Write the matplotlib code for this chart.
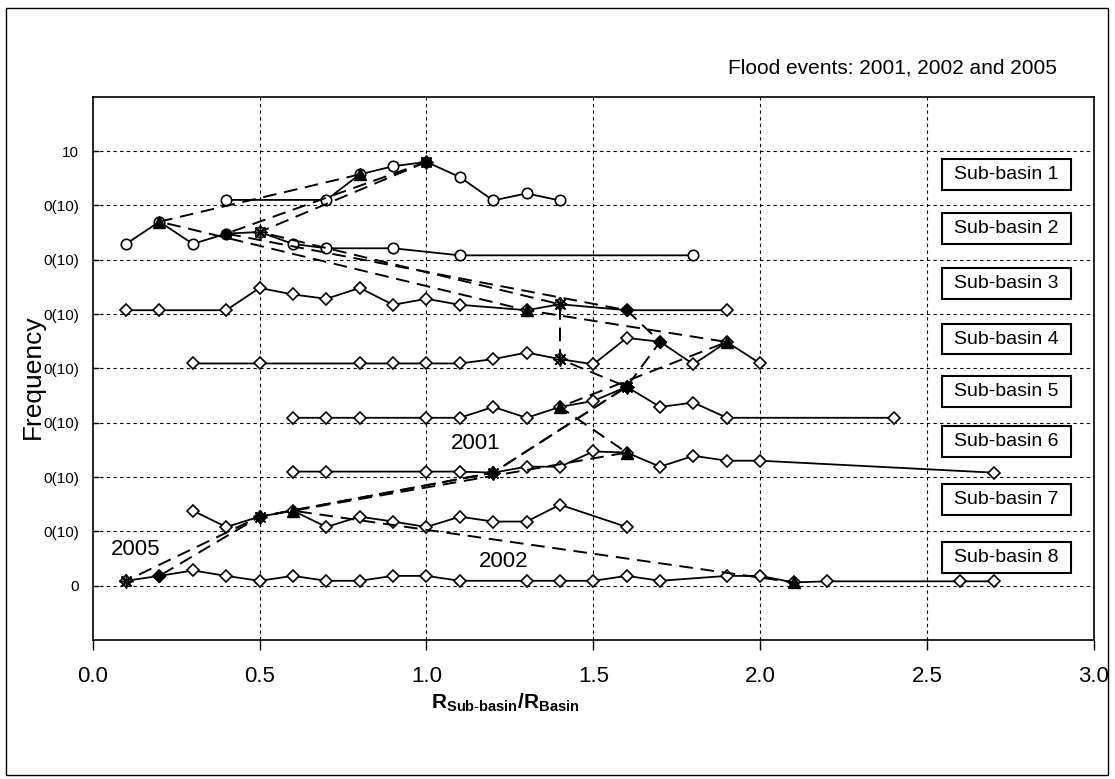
import matplotlib
matplotlib.use("Agg")
import matplotlib.pyplot as plt
from matplotlib.patches import Rectangle
import numpy as np

plt.rcParams['font.family'] = ['Liberation Sans', 'DejaVu Sans']
plt.rcParams['mathtext.fontset'] = 'custom'
plt.rcParams['mathtext.rm'] = 'Liberation Sans'
plt.rcParams['mathtext.bf'] = 'Liberation Sans:bold'

# ---- data: frequency per sub-basin vs R_sub-basin / R_basin ----
sb1_x = [0.4, 0.7, 0.8, 0.9, 1.0, 1.1, 1.2, 1.3, 1.4]
sb1_y = [1.0, 1.0, 5.7, 7.2, 8.0, 5.2, 0.9, 2.2, 0.9]
sb2_x = [0.1, 0.2, 0.3, 0.4, 0.5, 0.6, 0.7, 0.9, 1.1, 1.8]
sb2_y = [2.9, 7.0, 2.9, 4.8, 5.1, 2.9, 2.1, 2.1, 0.8, 0.8]
sb3_x = [0.1, 0.2, 0.4, 0.5, 0.6, 0.7, 0.8, 0.9, 1.0, 1.1, 1.3, 1.4, 1.6, 1.9]
sb3_y = [0.7, 0.7, 0.7, 4.8, 3.6, 2.8, 4.8, 1.7, 2.8, 1.7, 0.7, 1.8, 0.7, 0.7]
sb4_x = [0.3, 0.5, 0.8, 0.9, 1.0, 1.1, 1.2, 1.3, 1.4, 1.5, 1.6, 1.7, 1.8, 1.9, 2.0]
sb4_y = [0.9, 0.9, 0.9, 0.9, 0.9, 0.9, 1.7, 2.9, 1.7, 0.75, 5.6, 4.9, 0.75, 4.85, 0.9]
sb5_x = [0.6, 0.7, 0.8, 1.0, 1.1, 1.2, 1.3, 1.4, 1.5, 1.6, 1.7, 1.8, 1.9, 2.4]
sb5_y = [0.9, 0.9, 0.9, 0.9, 0.9, 2.9, 0.9, 2.9, 4.0, 6.6, 2.9, 3.7, 0.9, 0.9]
sb6_x = [0.6, 0.7, 1.0, 1.1, 1.2, 1.3, 1.4, 1.5, 1.6, 1.7, 1.8, 1.9, 2.0, 2.7]
sb6_y = [1.0, 1.0, 1.0, 1.0, 0.8, 1.9, 1.9, 4.7, 4.5, 1.9, 3.9, 3.0, 3.0, 0.8]
sb7_x = [0.3, 0.4, 0.5, 0.6, 0.7, 0.8, 0.9, 1.0, 1.1, 1.2, 1.3, 1.4, 1.6]
sb7_y = [3.8, 0.8, 2.7, 3.8, 0.8, 2.7, 1.8, 0.8, 2.7, 1.8, 1.8, 4.9, 0.8]
sb8_x = [0.1, 0.2, 0.3, 0.4, 0.5, 0.6, 0.7, 0.8, 0.9, 1.0, 1.1, 1.3, 1.4, 1.5,
         1.6, 1.7, 1.9, 2.0, 2.1, 2.2, 2.6, 2.7]
sb8_y = [0.9, 1.8, 2.8, 1.8, 0.9, 1.8, 0.9, 0.9, 1.8, 1.8, 0.9, 0.9, 0.9, 0.9,
         1.8, 0.9, 1.8, 1.8, 0.6, 0.8, 0.8, 0.8]

sub_basins = ["Sub-basin 1", "Sub-basin 2", "Sub-basin 3", "Sub-basin 4",
              "Sub-basin 5", "Sub-basin 6", "Sub-basin 7", "Sub-basin 8"]
series_x = [sb1_x, sb2_x, sb3_x, sb4_x, sb5_x, sb6_x, sb7_x, sb8_x]
series_y = [sb1_y, sb2_y, sb3_y, sb4_y, sb5_y, sb6_y, sb7_y, sb8_y]
base_markers = ['o', 'o', 'D', 'D', 'D', 'D', 'D', 'D']

# flood events: R ratio of the event in each sub-basin (1..8)
events = ["2001", "2002", "2005"]
ev2001_x = [1.0, 0.4, 1.6, 1.7, 1.6, 1.2, 0.5, 0.2]
ev2002_x = [0.8, 0.2, 1.3, 1.9, 1.4, 1.6, 0.6, 2.1]
ev2005_x = [1.0, 0.5, 1.4, 1.4, 1.6, 1.2, 0.5, 0.1]

ytick_vals = [0, 10, 20, 30, 40, 50, 60, 70, 80]
ytick_labels = ["0", "0(10)", "0(10)", "0(10)", "0(10)", "0(10)", "0(10)", "0(10)", "10"]
xtick_vals = [0.0, 0.5, 1.0, 1.5, 2.0, 2.5, 3.0]

# ---- figure ----
W, H = 1115, 779
fig = plt.figure(figsize=(W / 100, H / 100), dpi=100)
ax = fig.add_axes([92.7 / W, 1 - 640 / H, (1094 - 92.7) / W, (640 - 96.7) / H])
ax.set_xlim(0, 3)
ax.set_ylim(-10, 90)

offsets = [10 * (7 - i) for i in range(8)]

def yval(i, x):
    xs = series_x[i]
    j = int(np.argmin(np.abs(np.array(xs) - x)))
    return series_y[i][j] + offsets[i]

# grid
for xv in xtick_vals[1:-1]:
    ax.axvline(xv, color='black', lw=0.8, ls=(0, (3, 3)), zorder=0)
for yv in ytick_vals:
    ax.axhline(yv, color='black', lw=0.8, ls=(0, (3, 3)), zorder=0)

# sub-basin series
for i in range(8):
    ys = [v + offsets[i] for v in series_y[i]]
    ms = 7.5 if base_markers[i] == 'o' else 6.5
    ax.plot(series_x[i], ys, color='black', lw=1.3, marker=base_markers[i],
            ms=ms, mfc='white', mec='black', mew=1.2, zorder=3)

# event dashed lines
for evx in [ev2001_x, ev2002_x, ev2005_x]:
    ys = [yval(i, x) for i, x in enumerate(evx)]
    ax.plot(evx, ys, color='black', lw=1.4, ls=(0, (7, 4)), zorder=4)

# event markers
for i in range(8):
    m = base_markers[i]
    x = ev2001_x[i]
    ax.plot([x], [yval(i, x)], marker=m, ms=7 if m == 'o' else 6, mfc='black',
            mec='black', zorder=6)
    x = ev2002_x[i]
    ax.plot([x], [yval(i, x)], marker='^', ms=8, mfc='black', mec='black', zorder=6)
    x = ev2005_x[i]
    ax.plot([x], [yval(i, x)], marker=(8, 2, 0), ms=10, mec='black', mew=1.1, zorder=7)

# event labels
ax.text(1.147, 26.1, "2001", fontsize=16, ha='center', va='center', zorder=8)
ax.text(0.129, 6.6, "2005", fontsize=16, ha='center', va='center', zorder=8)
ax.text(1.23, 4.4, "2002", fontsize=16, ha='center', va='center', zorder=8)

# sub-basin boxes
box_y = [75.6, 65.8, 55.7, 45.4, 35.7, 26.6, 15.9, 5.1]
bx0, bx1, bh = 2.546, 2.93, 5.7
for name, cy in zip(sub_basins, box_y):
    ax.add_patch(Rectangle((bx0, cy - bh / 2), bx1 - bx0, bh, facecolor='white',
                           edgecolor='black', lw=1.5, zorder=9))
    ax.text((bx0 + bx1) / 2, cy, name, fontsize=14, ha='center', va='center', zorder=10)

# axes styling
ax.set_xticks(xtick_vals)
ax.set_xticklabels([f"{v:.1f}" for v in xtick_vals], fontsize=16)
ax.set_yticks(ytick_vals)
ax.set_yticklabels(ytick_labels, fontsize=11)
ax.tick_params(axis='x', direction='out', length=7, width=1, pad=12)
ax.tick_params(axis='y', direction='in', length=4, width=1, pad=10)
for s in ax.spines.values():
    s.set_linewidth(1.2)
    s.set_color('black')

fig.text(505 / W, 1 - 703 / H,
         r'$\mathbf{R}_{\mathbf{Sub\text{-}basin}}\mathbf{/R}_{\mathbf{Basin}}$',
         fontsize=15, ha='center', va='center')
fig.text(33 / W, 1 - 377 / H, "Frequency", fontsize=19, rotation=90,
         ha='center', va='center')
fig.text(1057 / W, 1 - 73 / H, "Flood events: 2001, 2002 and 2005", fontsize=15,
         ha='right', va='baseline')

# outer frame
fig.patches.append(Rectangle((6 / W, 4 / H), 1102 / W, 767 / H, transform=fig.transFigure,
                             fill=False, edgecolor='black', lw=1.0))

fig.savefig("out.png", dpi=100)
